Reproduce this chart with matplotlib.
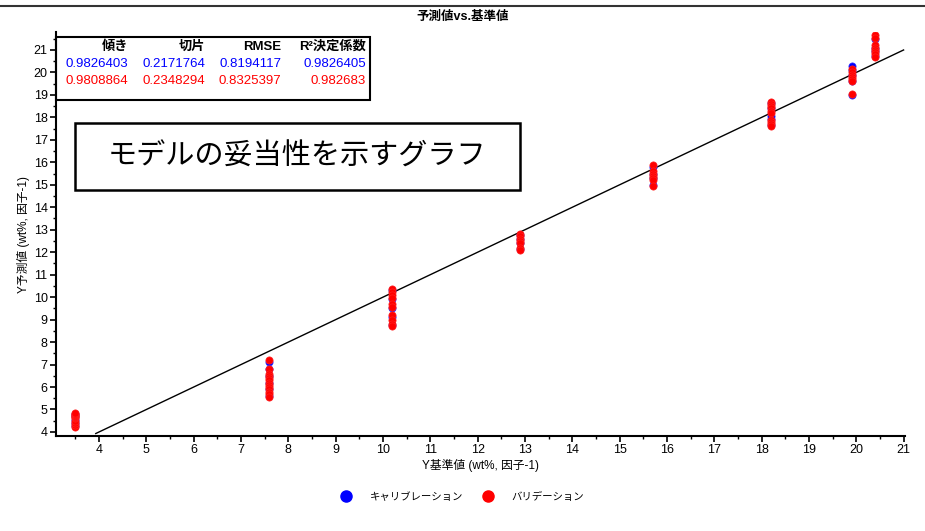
import matplotlib
matplotlib.use("Agg")
import matplotlib.pyplot as plt
from matplotlib.patches import Rectangle
from matplotlib.lines import Line2D
from matplotlib.ticker import MultipleLocator
import numpy as np

plt.rcParams['font.family'] = ['Liberation Sans', 'Noto Sans CJK JP', 'DejaVu Sans']

# reference values per sample
ref_x = [3.5, 7.6, 10.2, 12.9, 15.7, 18.2, 19.9, 20.4]

calib_y = [
    [4.25, 4.4, 4.55, 4.7, 4.8],
    [5.6, 5.9, 6.2, 6.5, 6.8, 7.1],
    [8.75, 9.1, 9.5, 9.9, 10.3],
    [12.15, 12.4, 12.6, 12.75],
    [15.0, 15.3, 15.5, 15.8],
    [17.65, 17.95, 18.05, 18.4, 18.65],
    [19.0, 19.6, 19.9, 20.1, 20.28],
    [20.75, 20.95, 21.1, 21.5],
]
valid_y = [
    [4.2, 4.3, 4.4, 4.5, 4.6, 4.65, 4.7, 4.75, 4.8, 4.85],
    [7.2, 6.8, 6.6, 6.5, 6.4, 6.3, 6.2, 6.1, 6.0, 5.9, 5.8, 5.7, 5.55],
    [10.35, 10.25, 10.1, 9.95, 9.7, 9.55, 9.2, 9.0, 8.8, 8.7],
    [12.8, 12.7, 12.6, 12.5, 12.4, 12.2, 12.1],
    [15.9, 15.6, 15.5, 15.4, 15.3, 15.2, 14.95],
    [18.7, 18.6, 18.5, 18.4, 18.3, 18.2, 17.9, 17.8, 17.7, 17.6],
    [20.15, 20.0, 19.9, 19.8, 19.7, 19.6, 19.05],
    [21.65, 21.55, 21.2, 21.1, 21.0, 20.9, 20.8, 20.7],
]

stat_headers = ['傾き', '切片', 'RMSE', 'R²決定係数']
calib_stats = ['0.9826403', '0.2171764', '0.8194117', '0.9826405']
valid_stats = ['0.9808864', '0.2348294', '0.8325397', '0.982683']

W, H = 925, 531
fig = plt.figure(figsize=(W / 100, H / 100), dpi=100)
ax = fig.add_axes([56 / W, 1 - 436 / H, (905 - 56) / W, (436 - 32) / H])


def fx(px):
    return px / W


def fy(py):
    return 1 - py / H


# 1:1 line
line_x = np.array([3.93, 21.0])
ax.plot(line_x, line_x, color='black', lw=1.0, zorder=2)

for x, ys in zip(ref_x, calib_y):
    ax.plot([x] * len(ys), ys, 'o', color='blue', ms=5.2, mec='#3030ff', mew=0.5, zorder=3)
for x, ys in zip(ref_x, valid_y):
    ax.plot([x] * len(ys), ys, 'o', color='red', ms=5.2, mec='#ff2020', mew=0.5, zorder=4)

ax.set_xlim(3.09, 21.03)
ax.set_ylim(3.82, 21.8)
ax.xaxis.set_major_locator(MultipleLocator(1))
ax.xaxis.set_minor_locator(MultipleLocator(0.5))
ax.yaxis.set_major_locator(MultipleLocator(1))
ax.yaxis.set_minor_locator(MultipleLocator(0.5))
ax.tick_params(which='major', direction='out', length=4, width=1.2, labelsize=9, pad=2)
ax.tick_params(which='minor', direction='out', length=2.5, width=1.0)
for s in ['top', 'right']:
    ax.spines[s].set_visible(False)
for s in ['left', 'bottom']:
    ax.spines[s].set_linewidth(1.5)

ax.set_xlabel('Y基準値 (wt%, 因子-1)', fontsize=8.5, labelpad=2)
ax.set_ylabel('Y予測値 (wt%, 因子-1)', fontsize=8.5, labelpad=3)
fig.text(0.5, fy(17), '予測値vs.基準値', ha='center', va='center', fontsize=9, fontweight='bold')

# rule across the top
fig.add_artist(Line2D([0, 1], [fy(6), fy(6)], color='#333333', lw=1.5))

# statistics table
fig.add_artist(Rectangle((fx(56), fy(100)), fx(370 - 56), fy(37) - fy(100),
                         fill=False, ec='black', lw=1.5))
col_right = [128, 205, 281, 366]
for cx, h, c, v in zip(col_right, stat_headers, calib_stats, valid_stats):
    fig.text(fx(cx), fy(47), h, ha='right', va='center', fontsize=9.5, fontweight='bold')
    fig.text(fx(cx), fy(64), c, ha='right', va='center', fontsize=9.5, color='blue')
    fig.text(fx(cx), fy(81), v, ha='right', va='center', fontsize=9.5, color='red')

# caption box
fig.add_artist(Rectangle((fx(75), fy(190)), fx(520 - 75), fy(123) - fy(190),
                         fill=False, ec='black', lw=1.8))
fig.text(fx(297), fy(157), 'モデルの妥当性を示すグラフ', ha='center', va='center', fontsize=21)

# legend
handles = [Line2D([], [], marker='o', ls='', color='blue', ms=8),
           Line2D([], [], marker='o', ls='', color='red', ms=8)]
fig.legend(handles, ['キャリブレーション', 'バリデーション'], loc='center',
           bbox_to_anchor=(fx(460), fy(497)), ncol=2, frameon=False, fontsize=7.5,
           handletextpad=1.3, columnspacing=1.3)

fig.savefig('out.png', dpi=100)
